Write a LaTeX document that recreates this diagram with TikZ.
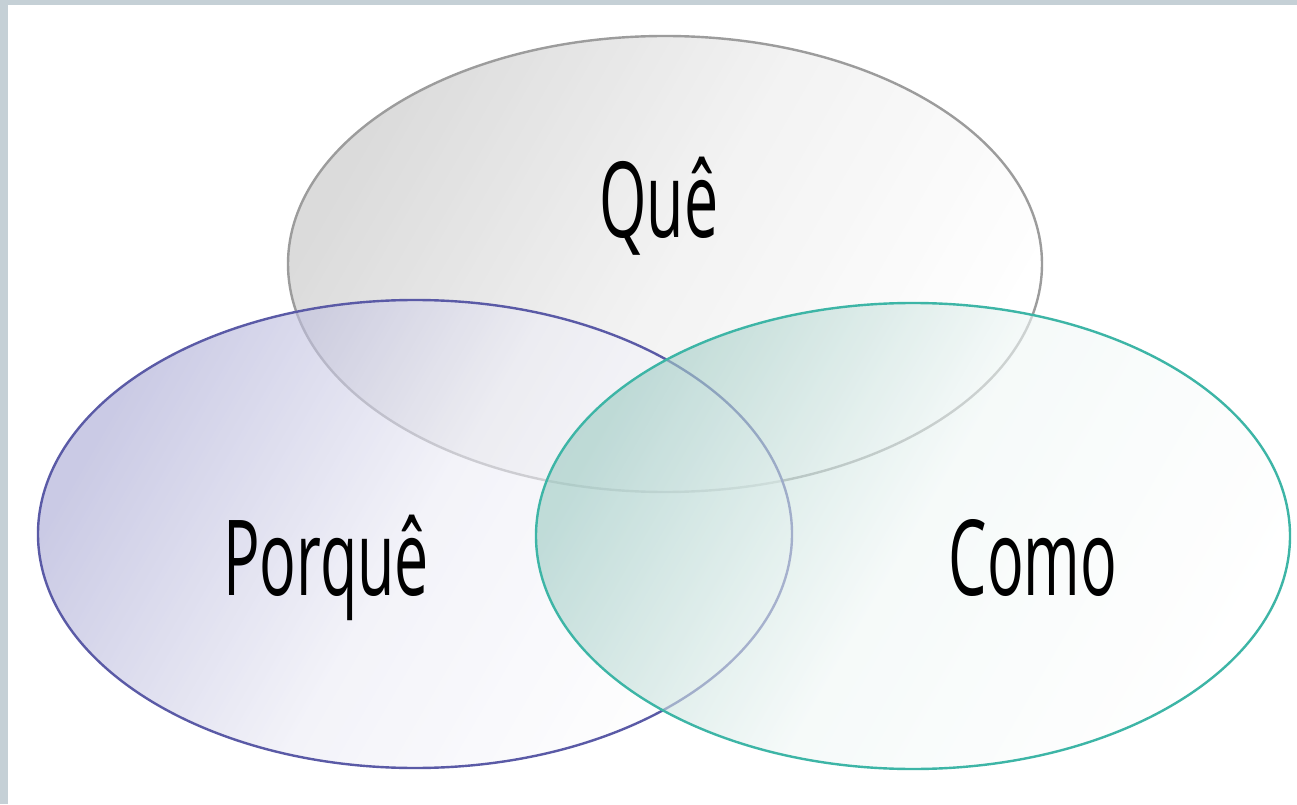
\documentclass[tikz,border=0pt]{standalone}
\usepackage{fontspec}
\setmainfont{Open Sans}
\definecolor{framegray}{HTML}{C5D0D6}
\definecolor{quegray}{HTML}{9C9C9C}
\definecolor{quefill}{HTML}{C4C4C4}
\definecolor{porline}{HTML}{5A5AA6}
\definecolor{porfill}{HTML}{A8A8D4}
\definecolor{comoline}{HTML}{3DB5A6}
\definecolor{comofill}{HTML}{9CCAC2}
\tikzset{
  venn/.style={line width=2.4pt, fill opacity=0.6},
  lbl/.style={anchor=base, inner sep=0pt, text=black, font=\fontsize{105}{110}\selectfont}
}
\newcommand{\narrow}[1]{\scalebox{0.58}[1]{#1}}
\begin{document}
\begin{tikzpicture}[x=1pt,y=1pt]
\useasboundingbox (0,0) rectangle (1297,804);
\fill[framegray] (0,0) rectangle (1297,804);
\fill[white] (8,0) rectangle (1297,799);
% Que
\path[venn, draw=quegray, top color=quefill, bottom color=white, middle color=quefill!35!white, shading angle=60]
  (665,540) ellipse [x radius=377, y radius=228];
% Porque
\path[venn, draw=porline, top color=porfill, bottom color=white, middle color=porfill!22!white, shading angle=60]
  (415,270) ellipse [x radius=377, y radius=234];
% Como
\path[venn, draw=comoline, top color=comofill, bottom color=white, middle color=comofill!15!white, shading angle=60]
  (913,268) ellipse [x radius=377, y radius=233];
\node[lbl] (que) at (659,566) {\narrow{Quê}};
\node[lbl] (porque) at (326,209) {\narrow{Porquê}};
\node[lbl] (como) at (1033,209) {\narrow{Como}};
\end{tikzpicture}
\end{document}
